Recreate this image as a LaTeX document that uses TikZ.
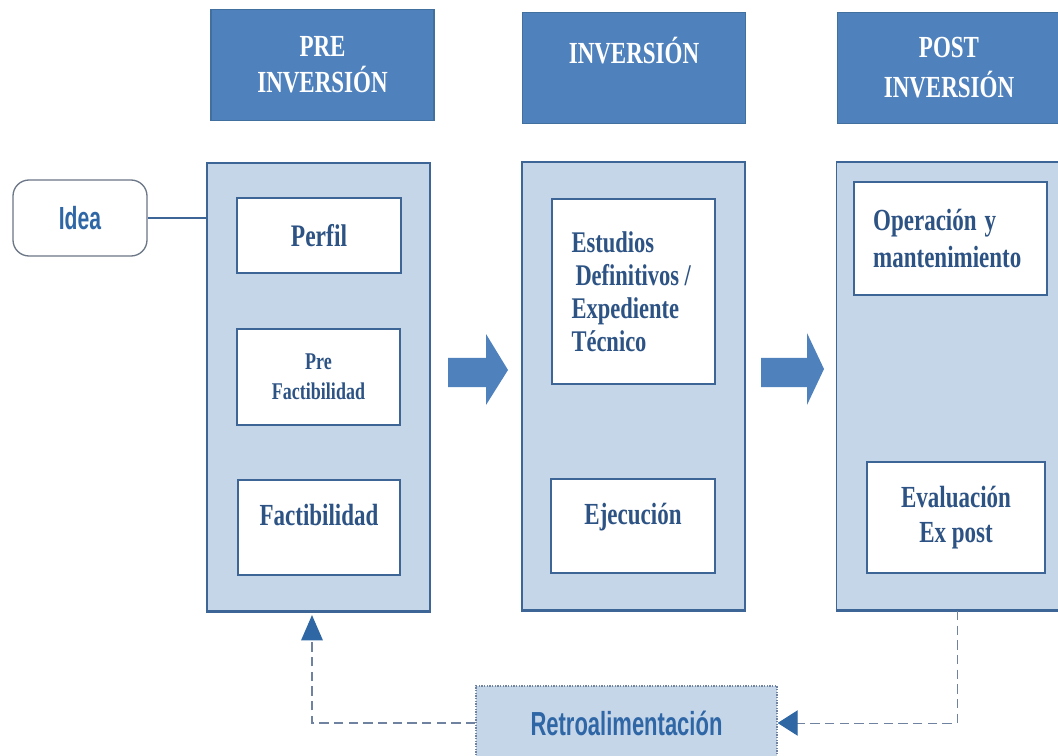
\documentclass[tikz,border=0pt]{standalone}
\usepackage{fontspec}
\usetikzlibrary{arrows.meta}
\newfontfamily\serifb[FakeStretch=0.75,UprightFont={* Bold}]{Liberation Serif}
\newfontfamily\sansb[FakeStretch=0.66,UprightFont={* Bold}]{Liberation Sans}
\definecolor{hdrblue}{HTML}{4F81BD}
\definecolor{hdrline}{HTML}{41709F}
\definecolor{colfill}{HTML}{C6D6E9}
\definecolor{colline}{HTML}{3D6596}
\definecolor{txtblue}{HTML}{2D5384}
\definecolor{ideablue}{HTML}{2F67A6}
\definecolor{idealine}{HTML}{6B7686}
\definecolor{fbgrey}{HTML}{6F83A0}
\definecolor{tipblue}{HTML}{2E67A3}
\newdimen\pxu \pxu=0.75pt

\begin{document}
\begin{tikzpicture}[x=0.75pt,y=-0.75pt,
		phase/.style={rectangle,fill=hdrblue,draw=hdrline,line width=1pt,text=white,
			minimum width=223\pxu,minimum height=111\pxu,inner sep=0pt,
			font=\serifb\fontsize{23}{27}\selectfont,align=center},
		column/.style={rectangle,fill=colfill,draw=colline,line width=1.2pt,
			minimum width=223\pxu,minimum height=448\pxu,inner sep=0pt},
		stage/.style={rectangle,fill=white,draw=colline,line width=1.2pt,text=txtblue,
			inner sep=0pt,font=\serifb\fontsize{23}{27}\selectfont,align=center},
		topped/.style={text height=16pt,text depth=19pt},
		ideabox/.style={rectangle,rounded corners=12pt,fill=white,draw=idealine,line width=1pt,
			text=ideablue,font=\sansb\fontsize{24}{28}\selectfont},
		retrobox/.style={rectangle,fill=colfill,draw=fbgrey,line width=1pt,densely dotted,
			text=ideablue,font=\sansb\fontsize{25}{29}\selectfont},
		link/.style={draw=colline,line width=1pt},
		baseline/.style={draw=colline,line width=2.2pt},
		fbthick/.style={draw=fbgrey,line width=1.6pt,dash pattern=on 7pt off 4pt,
			-{Triangle[length=19pt,width=16pt,color=tipblue]}},
		fbthin/.style={draw=fbgrey,line width=0.7pt,dash pattern=on 7pt off 4pt,
			-{Triangle[length=15pt,width=19pt,color=tipblue]}}]
	
	\useasboundingbox (0,0) rectangle (1058,756);
	
	% phases
	\node[phase] (hpre) at (322.5,65) {PRE\\INVERSIÓN};
	\node[phase] (hinv) at (634,68) {INVERSIÓN\\~};
	\node[phase,font=\serifb\fontsize{23}{30}\selectfont] (hpost) at (949,68) {POST\\INVERSIÓN};
	
	\node[column] (cpre) at (318.5,387) {};
	\node[column] (cinv) at (633.5,386) {};
	\node[column] (cpost) at (948,386) {};
	\foreach \c in {cpre,cinv,cpost}
		\draw[baseline] (\c.south west) -- (\c.south east);
	
	% pre inversion
	\node[stage,minimum width=164\pxu,minimum height=75\pxu,font=\serifb\fontsize{23.5}{27}\selectfont] (perfil) at (319,235.5) {Perfil};
	\node[stage,minimum width=163\pxu,minimum height=96\pxu,font=\serifb\fontsize{18}{22.5}\selectfont] (prefact) at (318.5,377) {Pre\\Factibilidad};
	\node[stage,topped,minimum width=162\pxu,minimum height=95\pxu] (fact) at (319,527.5) {Factibilidad};
	
	% inversion
	\node[stage,align=left,text width=93pt,minimum width=163\pxu,minimum height=185\pxu,font=\serifb\fontsize{22.5}{24.75}\selectfont] (estud) at (633.5,291.5) {Estudios\\\hspace{3pt}Definitivos\hspace{4pt}/\\Expediente\\Técnico};
	\node[stage,topped,minimum width=164\pxu,minimum height=94\pxu] (ejec) at (633,526) {Ejecución};
	
	% post inversion
	\node[stage,align=left,text width=116pt,minimum width=193\pxu,minimum height=113\pxu,font=\serifb\fontsize{23}{27.75}\selectfont] (operac) at (950.5,238.5) {Operación\hspace{6pt}y\\mantenimiento};
	\node[stage,minimum width=178\pxu,minimum height=111\pxu,font=\serifb\fontsize{23}{26.25}\selectfont] (evalu) at (956,517.5) {Evaluación\\Ex post};
	
	\node[ideabox,minimum width=134\pxu,minimum height=76\pxu] (idea) at (80,218) {Idea};
	\draw[link] (idea.east) -- (idea.east -| cpre.west);
	
	% block arrows
	\fill[hdrblue] (448,358) -- (486,358) -- (486,334) -- (508,370) -- (486,405) -- (486,387) -- (448,387) -- cycle;
	\fill[hdrblue] (761,358) -- (807,358) -- (807,333) -- (824,369) -- (807,405) -- (807,387) -- (761,387) -- cycle;
	
	% feedback
	\node[retrobox,minimum width=301\pxu,minimum height=74\pxu] (retro) at (626.5,723) {Retroalimentación};
	\coordinate (fbR) at (957,611);
	\coordinate (fbL) at (312,615);
	\draw[fbthin] (fbR) |- (retro.east);
	\draw[fbthick] (retro.west) -| (fbL);
\end{tikzpicture}
\end{document}
